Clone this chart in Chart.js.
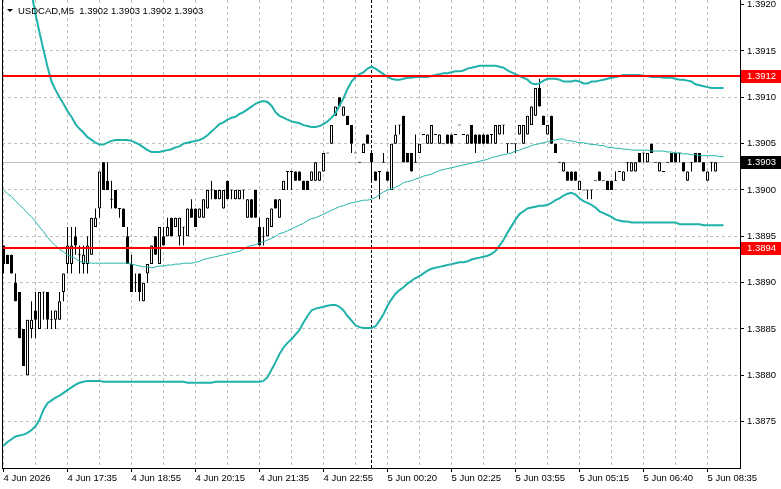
<!DOCTYPE html>
<html><head><meta charset="utf-8">
<script src="https://cdn.jsdelivr.net/npm/chart.js@4.4.1/dist/chart.umd.min.js"></script>
<style>html,body{margin:0;padding:0;background:#fff;overflow:hidden}canvas{display:block}</style>
</head><body>
<canvas id="c" width="781" height="489"></canvas>
<script>
const symbolTitle = 'USDCAD,M5';
const lastQuote = ['1.3902', '1.3903', '1.3902', '1.3903'];

const openP = [
1.3894,1.3893,1.3893,1.3890,1.3889,1.3885,1.3880,1.3885,1.3887,1.3885,
1.3889,1.3889,1.3886,1.3886,1.3886,1.3889,1.3892,1.3892,1.3895,1.3893,
1.3892,1.3892,1.3893,1.3896,1.3898,1.3903,1.3901,1.3899,1.3900,1.3898,
1.3898,1.3895,1.3892,1.3890,1.3891,1.3888,1.3891,1.3892,1.3895,1.3892,
1.3895,1.3895,1.3897,1.3896,1.3895,1.3896,1.3895,1.3898,1.3898,1.3897,
1.3897,1.3898,1.3900,1.3900,1.3899,1.3898,1.3901,1.3900,1.3899,1.3899,
1.3900,1.3897,1.3899,1.3900,1.3896,1.3895,1.3895,1.3896,1.3899,1.3897,
1.3900,1.3902,1.3902,1.3902,1.3902,1.3901,1.3901,1.3901,1.3901,1.3901,
1.3902,1.3904,1.3905,1.3908,1.3910,1.3908,1.3908,1.3907,1.3904,1.3903,
1.3904,1.3906,1.3904,1.3902,1.3902,1.3903,1.3902,1.3900,1.3905,1.3907,
1.3908,1.3904,1.3904,1.3903,1.3904,1.3906,1.3905,1.3905,1.3906,1.3905,
1.3905,1.3906,1.3906,1.3906,1.3907,1.3906,1.3905,1.3907,1.3906,1.3906,
1.3906,1.3906,1.3906,1.3905,1.3906,1.3907,1.3905,1.3905,1.3905,1.3906,
1.3905,1.3906,1.3907,1.3908,1.3911,1.3908,1.3906,1.3908,1.3905,1.3903,
1.3902,1.3902,1.3902,1.3902,1.3900,1.3900,1.3900,1.3900,1.3901,1.3902,
1.3901,1.3901,1.3901,1.3901,1.3902,1.3901,1.3903,1.3902,1.3902,1.3904,
1.3904,1.3903,1.3905,1.3903,1.3902,1.3902,1.3903,1.3904,1.3904,1.3904,
1.3903,1.3901,1.3903,1.3904,1.3904,1.3903,1.3901,1.3903,1.3902];

const highP = [
1.3894,1.3893,1.3893,1.3891,1.3889,1.3885,1.3886,1.3888,1.3889,1.3889,
1.3889,1.3889,1.3887,1.3887,1.3889,1.3891,1.3896,1.3896,1.3896,1.3894,
1.3894,1.3895,1.3897,1.3898,1.3902,1.3903,1.3903,1.3901,1.3900,1.3898,
1.3898,1.3896,1.3893,1.3891,1.3891,1.3890,1.3892,1.3894,1.3895,1.3896,
1.3896,1.3897,1.3897,1.3897,1.3897,1.3896,1.3898,1.3899,1.3898,1.3898,
1.3899,1.3900,1.3901,1.3900,1.3900,1.3900,1.3901,1.3900,1.3900,1.3900,
1.3900,1.3899,1.3899,1.3900,1.3897,1.3896,1.3897,1.3898,1.3899,1.3899,
1.3901,1.3902,1.3902,1.3902,1.3902,1.3901,1.3901,1.3902,1.3903,1.3902,
1.3904,1.3904,1.3907,1.3909,1.3910,1.3909,1.3908,1.3907,1.3904,1.3903,
1.3905,1.3906,1.3904,1.3902,1.3902,1.3904,1.3902,1.3905,1.3907,1.3907,
1.3908,1.3904,1.3904,1.3906,1.3905,1.3906,1.3906,1.3907,1.3906,1.3906,
1.3905,1.3906,1.3906,1.3906,1.3907,1.3906,1.3906,1.3907,1.3906,1.3906,
1.3906,1.3906,1.3906,1.3907,1.3907,1.3907,1.3905,1.3905,1.3905,1.3907,
1.3907,1.3908,1.3909,1.3911,1.3912,1.3908,1.3907,1.3908,1.3905,1.3903,
1.3903,1.3902,1.3902,1.3902,1.3901,1.3900,1.3900,1.3900,1.3901,1.3902,
1.3901,1.3901,1.3901,1.3902,1.3902,1.3902,1.3903,1.3903,1.3903,1.3904,
1.3904,1.3904,1.3905,1.3903,1.3903,1.3902,1.3903,1.3904,1.3904,1.3904,
1.3903,1.3902,1.3903,1.3904,1.3904,1.3903,1.3902,1.3903,1.3903];

const lowP = [
1.3891,1.3892,1.3891,1.3888,1.3884,1.3881,1.3880,1.3884,1.3884,1.3885,
1.3886,1.3885,1.3885,1.3885,1.3886,1.3888,1.3891,1.3891,1.3893,1.3891,
1.3891,1.3891,1.3893,1.3896,1.3897,1.3900,1.3900,1.3898,1.3898,1.3897,
1.3896,1.3892,1.3889,1.3889,1.3888,1.3888,1.3890,1.3892,1.3893,1.3892,
1.3894,1.3895,1.3895,1.3896,1.3894,1.3894,1.3895,1.3897,1.3896,1.3897,
1.3897,1.3898,1.3899,1.3899,1.3899,1.3898,1.3899,1.3899,1.3899,1.3899,
1.3899,1.3897,1.3897,1.3897,1.3894,1.3894,1.3895,1.3896,1.3898,1.3897,
1.3900,1.3900,1.3900,1.3901,1.3901,1.3900,1.3900,1.3901,1.3901,1.3901,
1.3902,1.3904,1.3905,1.3908,1.3909,1.3908,1.3907,1.3904,1.3904,1.3903,
1.3904,1.3905,1.3901,1.3901,1.3899,1.3903,1.3901,1.3900,1.3905,1.3906,
1.3903,1.3903,1.3902,1.3903,1.3904,1.3906,1.3905,1.3905,1.3906,1.3905,
1.3905,1.3905,1.3905,1.3906,1.3907,1.3906,1.3905,1.3905,1.3904,1.3905,
1.3905,1.3905,1.3905,1.3905,1.3906,1.3906,1.3904,1.3905,1.3904,1.3906,
1.3905,1.3906,1.3907,1.3908,1.3909,1.3907,1.3906,1.3905,1.3904,1.3903,
1.3902,1.3901,1.3901,1.3901,1.3900,1.3900,1.3899,1.3899,1.3901,1.3901,
1.3901,1.3900,1.3900,1.3901,1.3902,1.3901,1.3902,1.3902,1.3902,1.3903,
1.3903,1.3903,1.3904,1.3903,1.3902,1.3902,1.3903,1.3903,1.3903,1.3903,
1.3902,1.3901,1.3902,1.3903,1.3903,1.3902,1.3901,1.3902,1.3902];

const closeP = [
1.3892,1.3892,1.3891,1.3888,1.3884,1.3881,1.3886,1.3886,1.3886,1.3889,
1.3889,1.3886,1.3886,1.3887,1.3888,1.3891,1.3894,1.3894,1.3894,1.3893,
1.3893,1.3894,1.3897,1.3897,1.3902,1.3900,1.3900,1.3899,1.3898,1.3898,
1.3896,1.3892,1.3889,1.3890,1.3889,1.3890,1.3892,1.3894,1.3893,1.3896,
1.3894,1.3896,1.3895,1.3897,1.3897,1.3896,1.3898,1.3897,1.3896,1.3898,
1.3899,1.3900,1.3900,1.3899,1.3900,1.3900,1.3899,1.3900,1.3900,1.3900,
1.3900,1.3899,1.3897,1.3897,1.3894,1.3895,1.3897,1.3898,1.3898,1.3899,
1.3901,1.3902,1.3902,1.3901,1.3901,1.3900,1.3900,1.3902,1.3903,1.3902,
1.3904,1.3904,1.3907,1.3909,1.3909,1.3909,1.3907,1.3905,1.3904,1.3903,
1.3905,1.3905,1.3903,1.3901,1.3902,1.3903,1.3901,1.3905,1.3906,1.3907,
1.3903,1.3903,1.3902,1.3903,1.3905,1.3906,1.3906,1.3907,1.3906,1.3906,
1.3905,1.3905,1.3905,1.3906,1.3907,1.3906,1.3906,1.3905,1.3905,1.3905,
1.3905,1.3905,1.3906,1.3907,1.3907,1.3907,1.3905,1.3905,1.3905,1.3907,
1.3907,1.3908,1.3909,1.3911,1.3909,1.3907,1.3907,1.3905,1.3904,1.3903,
1.3903,1.3901,1.3901,1.3901,1.3901,1.3900,1.3900,1.3900,1.3901,1.3901,
1.3901,1.3900,1.3900,1.3901,1.3902,1.3902,1.3903,1.3903,1.3903,1.3903,
1.3904,1.3904,1.3904,1.3903,1.3903,1.3902,1.3903,1.3903,1.3903,1.3904,
1.3902,1.3902,1.3903,1.3903,1.3903,1.3902,1.3902,1.3903,1.3903];

const bbUpper = [
1.39350,1.39330,1.39310,1.39290,1.39270,1.39250,1.39230,1.39212,1.39190,1.39170,
1.39151,1.39133,1.39117,1.39108,1.39100,1.39093,1.39085,1.39079,1.39071,1.39066,
1.39062,1.39057,1.39054,1.39051,1.39049,1.39049,1.39051,1.39053,1.39054,1.39054,
1.39054,1.39054,1.39053,1.39051,1.39049,1.39046,1.39043,1.39041,1.39041,1.39041,
1.39042,1.39043,1.39044,1.39046,1.39047,1.39050,1.39051,1.39052,1.39053,1.39054,
1.39056,1.39059,1.39063,1.39067,1.39071,1.39073,1.39076,1.39078,1.39079,1.39082,
1.39084,1.39087,1.39090,1.39093,1.39095,1.39096,1.39095,1.39091,1.39084,1.39080,
1.39078,1.39076,1.39074,1.39073,1.39072,1.39070,1.39069,1.39068,1.39068,1.39069,
1.39071,1.39074,1.39078,1.39083,1.39091,1.39099,1.39109,1.39117,1.39122,1.39125,
1.39127,1.39131,1.39133,1.39131,1.39128,1.39125,1.39122,1.39120,1.39119,1.39119,
1.39120,1.39121,1.39121,1.39122,1.39122,1.39122,1.39122,1.39123,1.39124,1.39125,
1.39126,1.39126,1.39127,1.39128,1.39128,1.39129,1.39131,1.39132,1.39133,1.39134,
1.39134,1.39134,1.39134,1.39134,1.39133,1.39132,1.39129,1.39127,1.39125,1.39123,
1.39121,1.39119,1.39115,1.39114,1.39115,1.39118,1.39120,1.39120,1.39120,1.39119,
1.39117,1.39117,1.39117,1.39118,1.39117,1.39115,1.39115,1.39117,1.39117,1.39118,
1.39119,1.39120,1.39121,1.39122,1.39123,1.39124,1.39124,1.39124,1.39124,1.39124,
1.39123,1.39123,1.39122,1.39122,1.39122,1.39121,1.39121,1.39121,1.39120,1.39119,
1.39119,1.39118,1.39117,1.39114,1.39113,1.39112,1.39111,1.39110,1.39110,1.39110,
1.39110];

const bbMiddle = [
1.39000,1.38996,1.38993,1.38988,1.38984,1.38980,1.38975,1.38971,1.38966,1.38960,
1.38955,1.38949,1.38944,1.38940,1.38936,1.38933,1.38930,1.38928,1.38926,1.38923,
1.38922,1.38922,1.38921,1.38921,1.38921,1.38921,1.38921,1.38921,1.38921,1.38921,
1.38921,1.38921,1.38920,1.38919,1.38918,1.38917,1.38917,1.38916,1.38917,1.38918,
1.38918,1.38919,1.38919,1.38920,1.38920,1.38921,1.38921,1.38921,1.38922,1.38923,
1.38925,1.38926,1.38927,1.38928,1.38929,1.38930,1.38931,1.38932,1.38933,1.38934,
1.38936,1.38939,1.38940,1.38941,1.38943,1.38944,1.38946,1.38948,1.38950,1.38953,
1.38954,1.38956,1.38958,1.38960,1.38962,1.38964,1.38967,1.38969,1.38970,1.38972,
1.38974,1.38976,1.38978,1.38980,1.38982,1.38983,1.38985,1.38986,1.38987,1.38988,
1.38989,1.38989,1.38990,1.38992,1.38995,1.38998,1.39000,1.39001,1.39003,1.39005,
1.39008,1.39009,1.39010,1.39012,1.39013,1.39015,1.39016,1.39017,1.39019,1.39021,
1.39022,1.39023,1.39024,1.39025,1.39026,1.39027,1.39028,1.39029,1.39030,1.39031,
1.39032,1.39033,1.39035,1.39036,1.39037,1.39038,1.39039,1.39040,1.39042,1.39043,
1.39045,1.39046,1.39048,1.39049,1.39050,1.39051,1.39052,1.39053,1.39054,1.39055,
1.39055,1.39053,1.39053,1.39052,1.39051,1.39051,1.39050,1.39049,1.39049,1.39048,
1.39048,1.39046,1.39046,1.39045,1.39045,1.39044,1.39044,1.39043,1.39043,1.39043,
1.39043,1.39043,1.39042,1.39042,1.39042,1.39042,1.39041,1.39041,1.39040,1.39040,
1.39039,1.39039,1.39038,1.39038,1.39037,1.39037,1.39037,1.39037,1.39037,1.39036,
1.39036];

const bbLower = [
1.38724,1.38728,1.38731,1.38734,1.38735,1.38736,1.38738,1.38741,1.38745,1.38752,
1.38763,1.38770,1.38773,1.38776,1.38778,1.38781,1.38784,1.38787,1.38790,1.38792,
1.38793,1.38794,1.38794,1.38794,1.38794,1.38793,1.38793,1.38793,1.38793,1.38793,
1.38793,1.38793,1.38793,1.38793,1.38793,1.38793,1.38793,1.38793,1.38793,1.38793,
1.38793,1.38793,1.38793,1.38793,1.38793,1.38793,1.38792,1.38792,1.38792,1.38792,
1.38792,1.38792,1.38792,1.38793,1.38793,1.38793,1.38793,1.38793,1.38793,1.38793,
1.38793,1.38793,1.38793,1.38793,1.38793,1.38794,1.38798,1.38806,1.38814,1.38823,
1.38830,1.38835,1.38839,1.38844,1.38849,1.38857,1.38864,1.38870,1.38872,1.38873,
1.38874,1.38875,1.38876,1.38876,1.38874,1.38870,1.38864,1.38859,1.38854,1.38852,
1.38851,1.38851,1.38851,1.38853,1.38859,1.38866,1.38875,1.38882,1.38888,1.38892,
1.38895,1.38899,1.38902,1.38905,1.38907,1.38910,1.38913,1.38915,1.38916,1.38917,
1.38918,1.38919,1.38920,1.38921,1.38922,1.38922,1.38923,1.38925,1.38926,1.38927,
1.38928,1.38929,1.38931,1.38934,1.38940,1.38946,1.38954,1.38961,1.38968,1.38974,
1.38977,1.38980,1.38981,1.38982,1.38983,1.38983,1.38984,1.38986,1.38989,1.38991,
1.38994,1.38996,1.38997,1.38995,1.38991,1.38988,1.38986,1.38984,1.38981,1.38977,
1.38975,1.38973,1.38971,1.38968,1.38967,1.38966,1.38966,1.38965,1.38965,1.38965,
1.38965,1.38965,1.38965,1.38965,1.38965,1.38965,1.38965,1.38965,1.38965,1.38963,
1.38963,1.38963,1.38963,1.38963,1.38963,1.38962,1.38962,1.38962,1.38962,1.38962,
1.38962];

const timeLabelBars = [0, 16, 32, 48, 64, 80, 96, 112, 128, 144, 160, 176];
const timeLabels = ['4 Jun 2026', '4 Jun 17:35', '4 Jun 18:55', '4 Jun 20:15', '4 Jun 21:35', '4 Jun 22:55',
                    '5 Jun 00:20', '5 Jun 02:25', '5 Jun 03:55', '5 Jun 05:15', '5 Jun 06:40', '5 Jun 08:35'];
const gridBars = [0, 8, 16, 24, 32, 40, 48, 56, 64, 72, 80, 88, 96, 104, 112, 120, 128, 136, 144, 152, 160, 168, 176];
const priceTicks = [1.3875, 1.3880, 1.3885, 1.3890, 1.3895, 1.3900, 1.3905, 1.3910, 1.3915, 1.3920];
const resistanceLevel = 1.39123;
const supportLevel = 1.38937;
const bidPrice = 1.3903;
const separatorBar = 92;

const TEAL = '#20b2aa';
const FONT = '"Liberation Sans", Arial, sans-serif';
Chart.defaults.font.family = FONT;
Chart.defaults.font.size = 9.5;
Chart.defaults.color = '#000';

const halfPipDraw = 0.0000054;
const bodies = openP.map((o, i) => {
  const c = closeP[i];
  return {x: i, y: o === c ? [o - halfPipDraw, o + halfPipDraw] : [o, c]};
});
const bodyColors = openP.map((o, i) => closeP[i] > o ? '#ffffff' : '#000000');
const wicks = lowP.map((l, i) => ({x: i, y: [l, highP[i]]}));
const toPts = arr => arr.map((v, i) => ({x: i, y: v}));
const topTick = priceTicks[priceTicks.length - 1];

const overlay = {
  id: 'overlay',
  beforeDatasetsDraw(chart) {
    const {ctx, chartArea: a, scales: {x, y}} = chart;
    ctx.save();
    const by = Math.round(y.getPixelForValue(bidPrice)) + 0.5;
    ctx.strokeStyle = '#c0c0c0';
    ctx.lineWidth = 1;
    ctx.beginPath(); ctx.moveTo(a.left, by); ctx.lineTo(a.right, by); ctx.stroke();
    const sx = Math.floor(x.getPixelForValue(separatorBar)) + 0.5;
    ctx.strokeStyle = '#000';
    ctx.setLineDash([3, 2]);
    ctx.beginPath(); ctx.moveTo(sx, a.top); ctx.lineTo(sx, a.bottom); ctx.stroke();
    ctx.restore();
  },
  afterDatasetsDraw(chart) {
    const {ctx, chartArea: a, scales: {y}} = chart;
    ctx.save();
    ctx.fillStyle = '#ff0000';
    [resistanceLevel, supportLevel].forEach(v => {
      const py = Math.round(y.getPixelForValue(v));
      ctx.fillRect(a.left, py - 1, a.right - a.left, 2);
    });
    ctx.fillStyle = '#000';
    ctx.fillRect(a.left, a.top, 1, a.bottom - a.top);
    ctx.restore();
  },
  afterDraw(chart) {
    const {ctx, chartArea: a, scales: {y}} = chart;
    ctx.save();
    ctx.font = '9.5px ' + FONT;
    ctx.textBaseline = 'middle';
    [[resistanceLevel, '#ff0000'], [supportLevel, '#ff0000'], [bidPrice, '#000000']].forEach(([v, col]) => {
      const py = Math.round(y.getPixelForValue(v));
      ctx.fillStyle = col;
      ctx.fillRect(a.right + 1, py - 6, chart.width - a.right - 1, 13);
      ctx.fillStyle = '#ffffff';
      ctx.fillText(v.toFixed(4), a.right + 7, py + 0.5);
    });
    ctx.fillStyle = '#000';
    ctx.beginPath(); ctx.moveTo(7, 9); ctx.lineTo(13, 9); ctx.lineTo(10, 12); ctx.closePath(); ctx.fill();
    ctx.fillText(symbolTitle + '  ' + lastQuote.join(' '), 18, 11);
    ctx.restore();
  }
};

new Chart(document.getElementById('c'), {
  type: 'bar',
  data: {
    datasets: [
      {type: 'line', data: toPts(bbUpper), borderColor: TEAL, borderWidth: 2, pointRadius: 0, tension: 0, order: 0},
      {type: 'line', data: toPts(bbMiddle), borderColor: TEAL, borderWidth: 1, pointRadius: 0, tension: 0, order: 0},
      {type: 'line', data: toPts(bbLower), borderColor: TEAL, borderWidth: 2, pointRadius: 0, tension: 0, order: 0},
      {type: 'bar', data: bodies, backgroundColor: bodyColors, borderColor: '#000', borderWidth: 1,
       borderSkipped: false, barThickness: 3, grouped: false, inflateAmount: 0, order: 1},
      {type: 'bar', data: wicks, backgroundColor: '#000', borderWidth: 0, barThickness: 1,
       grouped: false, inflateAmount: 0, order: 2}
    ]
  },
  options: {
    responsive: false,
    devicePixelRatio: 1,
    animation: false,
    events: [],
    layout: {padding: {left: 2, top: 0, right: 0, bottom: 0}, autoPadding: false},
    plugins: {legend: {display: false}, tooltip: {enabled: false}},
    scales: {
      x: {
        type: 'linear', min: -0.375, max: 184.125, offset: false,
        grid: {offset: false, color: '#c0c0c0', tickLength: 4,
               tickColor: c => (c.tick && timeLabelBars.includes(c.tick.value)) ? '#000' : 'rgba(0,0,0,0)'},
        border: {display: true, color: '#000', width: 1, dash: [3, 3]},
        ticks: {autoSkip: false, maxRotation: 0, minRotation: 0, align: 'start', padding: 1, color: '#000',
                callback: v => { const k = timeLabelBars.indexOf(v); return k >= 0 ? timeLabels[k] : ''; }},
        afterBuildTicks: s => { s.ticks = gridBars.map(v => ({value: v})); },
        afterFit: s => { s.height = 21; s.paddingLeft = 0; s.paddingRight = 0; }
      },
      y: {
        type: 'linear', position: 'right', min: 1.3870, max: 1.39205, beginAtZero: false,
        grid: {color: c => (c.tick && c.tick.value === topTick) ? 'rgba(0,0,0,0)' : '#c0c0c0',
               tickColor: '#000', tickLength: 4},
        border: {display: true, color: '#000', width: 1, dash: [3, 3]},
        ticks: {padding: 3, color: '#000', callback: v => Number(v).toFixed(4)},
        afterBuildTicks: s => { s.ticks = priceTicks.map(v => ({value: v})); },
        afterFit: s => { s.width = 41; s.paddingTop = 0; s.paddingBottom = 0; }
      }
    }
  },
  plugins: [overlay]
});
</script>
</body></html>
